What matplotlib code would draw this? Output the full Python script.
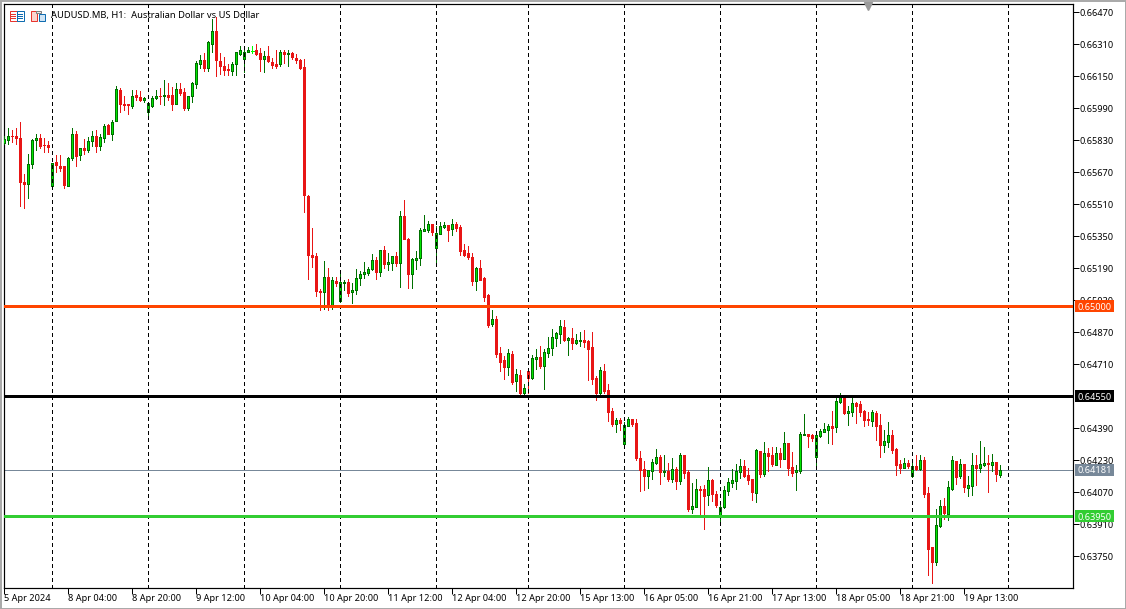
from matplotlib import pyplot as plt
from matplotlib.patches import Rectangle
from matplotlib.transforms import blended_transform_factory

plt.rcParams['font.family'] = ['Noto Sans', 'DejaVu Sans']

# hourly prices, in points (0.00001), first bar is 5 Apr 2024
opens = [65815,65829,65852,65852,65842,65622,65609,65709,65829,65842,
         65807,65807,65599,65720,65700,65699,65602,65739,65862,65754,
         65792,65782,65824,65852,65799,65839,65907,65862,65924,66082,
         66012,66010,66002,66055,66045,66032,65969,65999,66039,66052,
         66049,66057,66055,66012,66087,66072,65992,66049,66109,66212,
         66230,66192,66312,66375,66225,66202,66187,66174,66209,66262,
         66237,66270,66277,66280,66265,66237,66252,66222,66212,66209,
         66270,66259,66267,66242,66232,66195,65552,65257,65252,65077,
         65069,65145,64999,65125,65024,65114,65122,65072,65079,65142,
         65162,65167,65184,65232,65169,65282,65212,65217,65252,65214,
         65452,65337,65159,65232,65242,65377,65382,65412,65292,65362,
         65397,65405,65387,65412,65397,65282,65267,65247,65127,65192,
         65142,65057,64912,64937,64767,64732,64697,64762,64627,64657,
         64567,64677,64642,64737,64747,64702,64767,64792,64842,64862,
         64897,64829,64842,64817,64827,64832,64827,64797,64642,64567,
         64677,64582,64477,64412,64432,64312,64402,64437,64417,64242,
         64187,64152,64177,64217,64247,64172,64177,64137,64187,64127,
         64257,64172,63987,63997,64087,64087,64057,64132,64062,63949,
         63997,64077,64117,64127,64172,64202,64157,64137,64067,64277,
         64162,64267,64257,64207,64267,64237,64317,64197,64172,64177,
         64357,64362,64357,64247,64349,64372,64382,64402,64397,64522,
         64549,64467,64472,64517,64512,64477,64437,64427,64467,64407,
         64307,64322,64357,64287,64212,64192,64217,64152,64202,64187,
         64232,64067,63797,63722,63902,64002,63962,64087,64227,64152,
         64212,64092,64102,64207,64192,64207,64217,64207,64222,64157]
highs = [65849,65892,65879,65892,65922,65662,65762,65835,65862,65862,
         65842,65825,65715,65757,65757,65699,65745,65892,65875,65792,
         65835,65845,65875,65882,65859,65912,65912,65929,66102,66089,
         66052,66012,66079,66082,66075,66047,66019,66052,66082,66089,
         66129,66115,66095,66115,66115,66092,66052,66122,66225,66255,
         66265,66325,66435,66445,66265,66245,66212,66222,66272,66299,
         66285,66295,66302,66312,66289,66277,66299,66239,66279,66282,
         66282,66279,66272,66262,66235,66235,65557,65390,65265,65087,
         65227,65190,65145,65145,65162,65132,65137,65115,65187,65175,
         65222,65195,65262,65245,65282,65302,65265,65252,65272,65475,
         65532,65340,65239,65277,65392,65457,65425,65412,65402,65422,
         65422,65407,65437,65419,65407,65312,65302,65265,65197,65232,
         65147,65062,64982,64952,64797,64752,64787,64777,64687,64682,
         64612,64677,64757,64787,64802,64787,64847,64887,64872,64932,
         64932,64847,64892,64862,64872,64882,64832,64872,64652,64697,
         64712,64612,64492,64442,64442,64422,64447,64437,64437,64277,
         64227,64182,64237,64287,64257,64257,64217,64242,64197,64267,
         64257,64182,64117,64137,64102,64107,64197,64137,64077,64027,
         64102,64142,64187,64212,64237,64232,64192,64137,64287,64277,
         64322,64292,64297,64297,64292,64372,64317,64272,64207,64372,
         64462,64362,64362,64357,64387,64417,64412,64477,64557,64565,
         64549,64502,64542,64522,64527,64482,64472,64482,64477,64462,
         64382,64422,64382,64292,64232,64242,64232,64232,64257,64257,
         64247,64097,63797,63987,64032,64042,64127,64252,64227,64237,
         64212,64152,64267,64257,64327,64297,64257,64262,64222,64207]
lows = [65812,65812,65822,65812,65502,65489,65542,65689,65779,65789,
        65769,65772,65595,65672,65675,65592,65599,65732,65699,65732,
        65759,65769,65802,65772,65779,65822,65859,65832,65924,65969,
        65979,65962,65992,66032,66025,66022,65949,65995,66035,66012,
        66005,66032,65982,66012,66055,65982,65982,66022,66092,66192,
        66174,66175,66269,66152,66159,66155,66155,66155,66155,66255,
        66169,66269,66265,66255,66174,66169,66220,66192,66192,66199,
        66215,66199,66235,66215,66185,65472,65137,65197,65052,64982,
        64987,64982,64987,65102,65020,65082,65052,65017,65062,65107,
        65139,65157,65182,65137,65149,65192,65179,65182,65202,65097,
        65335,65092,65092,65184,65207,65374,65372,65357,65202,65359,
        65389,65327,65357,65377,65257,65252,65237,65107,65082,65132,
        65027,64897,64902,64747,64677,64637,64657,64612,64577,64562,
        64557,64565,64637,64687,64692,64587,64747,64757,64802,64817,
        64827,64757,64787,64812,64802,64797,64632,64612,64532,64552,
        64567,64427,64402,64372,64382,64310,64402,64402,64232,64077,
        64082,64092,64137,64212,64112,64152,64127,64122,64087,64112,
        64140,63977,63967,63997,63952,63887,64007,64027,63997,63907,
        63992,64057,64097,64087,64142,64145,64112,64032,64022,64147,
        64152,64177,64202,64207,64197,64235,64157,64152,64082,64167,
        64354,64297,64327,64192,64347,64369,64317,64312,64372,64515,
        64462,64407,64452,64417,64452,64402,64407,64402,64332,64247,
        64272,64297,64267,64157,64167,64192,64192,64147,64182,64182,
        64047,63657,63617,63707,63897,63937,63932,64082,64112,64142,
        64072,64052,64057,64107,64172,64202,64072,64177,64127,64147]
closes = [65835,65852,65849,65839,65619,65612,65712,65832,65842,65802,
          65804,65797,65715,65704,65692,65607,65742,65862,65749,65790,
          65782,65827,65852,65799,65845,65902,65862,65920,66087,66009,
          66007,66004,66050,66044,66032,66040,66015,66040,66050,66049,
          66055,66045,66012,66085,66065,65992,66049,66115,66215,66230,
          66192,66320,66375,66229,66202,66179,66179,66210,66270,66282,
          66270,66282,66277,66262,66237,66252,66224,66207,66202,66270,
          66259,66265,66244,66229,66192,65555,65254,65247,65074,65069,
          65145,64999,65130,65115,65122,65122,65067,65082,65142,65162,
          65172,65187,65232,65172,65282,65212,65222,65250,65214,65452,
          65337,65162,65235,65242,65382,65387,65412,65369,65365,65402,
          65407,65382,65412,65392,65277,65257,65247,65127,65192,65132,
          65047,64907,64937,64762,64722,64697,64767,64622,64662,64567,
          64592,64642,64742,64747,64702,64772,64792,64847,64867,64902,
          64832,64842,64817,64832,64832,64822,64787,64637,64567,64682,
          64577,64472,64412,64432,64417,64407,64437,64412,64242,64182,
          64152,64182,64222,64247,64172,64177,64137,64187,64127,64257,
          64167,63987,64002,64087,64079,64052,64132,64062,64007,63997,
          64082,64122,64132,64177,64202,64152,64132,64072,64282,64162,
          64267,64252,64212,64267,64237,64317,64192,64167,64182,64362,
          64362,64352,64342,64357,64377,64387,64402,64392,64527,64549,
          64467,64477,64517,64502,64472,64432,64432,64472,64402,64307,
          64327,64357,64282,64207,64192,64217,64200,64202,64187,64232,
          64062,63787,63722,63907,64002,63967,64097,64232,64147,64212,
          64097,64107,64207,64192,64212,64217,64212,64222,64162,64181]

# axis labels
price_ticks = [0.66470, 0.66310, 0.66150, 0.65990, 0.65830, 0.65670, 0.65510, 0.65350, 0.65190,
               0.65030, 0.64870, 0.64710, 0.64390, 0.64230, 0.64070, 0.63910, 0.63750]
time_bars = [0, 16, 32, 48, 64, 80, 96, 112, 128, 144, 160, 176, 192, 208, 224, 240]
time_labels = ['5 Apr 2024', '8 Apr 04:00', '8 Apr 20:00', '9 Apr 12:00', '10 Apr 04:00', '10 Apr 20:00',
               '11 Apr 12:00', '12 Apr 04:00', '12 Apr 20:00', '15 Apr 13:00', '16 Apr 05:00',
               '16 Apr 21:00', '17 Apr 13:00', '18 Apr 05:00', '18 Apr 21:00', '19 Apr 13:00']
day_bars = [12, 36, 60, 84, 108, 131, 155, 179, 203, 227, 251]

# horizontal levels
level_prices = [0.65000, 0.64550, 0.63950, 0.64181]
level_colors = ['#FF4500', '#000000', '#32CD32', '#778899']
level_widths = [3, 3, 3, 1]

W, H = 1126, 609
px = 0.72  # one pixel in points at dpi 100

fig = plt.figure(figsize=(W / 100, H / 100), dpi=100)
ax = fig.add_axes([4 / W, (H - 588) / H, 1068.5 / W, 584 / H])

xs = list(range(len(opens)))
up = [i for i in xs if closes[i] > opens[i]]
down = [i for i in xs if closes[i] < opens[i]]
flat = [i for i in xs if closes[i] == opens[i]]

# wicks, then bodies
wick_colors = ['#007000' if closes[i] > opens[i] else '#E81515' if closes[i] < opens[i] else '#00FF00' for i in xs]
ax.vlines(xs, [v / 1e5 for v in lows], [v / 1e5 for v in highs], colors=wick_colors, lw=px, zorder=3, antialiased=False)
ax.bar(up, [(closes[i] - opens[i]) / 1e5 for i in up], bottom=[opens[i] / 1e5 for i in up], width=0.5,
       color='#00E600', edgecolor='#007000', lw=px, zorder=4, antialiased=False)
ax.bar(down, [(closes[i] - opens[i]) / 1e5 for i in down], bottom=[opens[i] / 1e5 for i in down], width=0.5,
       color='#E81515', edgecolor='#E81515', lw=px, zorder=4, antialiased=False)
ax.hlines([closes[i] / 1e5 for i in flat], [i - 0.3 for i in flat], [i + 0.3 for i in flat],
          colors='#00FF00', lw=px, zorder=4, antialiased=False)

# day separators
for b in day_bars:
    ax.axvline(b, color='black', lw=px, dashes=(4, 3), zorder=5, antialiased=False)

# levels and their price tags on the right
tag_tf = blended_transform_factory(ax.transAxes, ax.transData)
for p, c, w in zip(level_prices, level_colors, level_widths):
    ax.axhline(p, color=c, lw=w * px, zorder=2 if w == 1 else 6, antialiased=False)
    ax.add_patch(Rectangle((1.0024, p - 0.00029), 0.0365, 0.00058, transform=tag_tf, color=c,
                           clip_on=False, zorder=7, lw=0))
    ax.text(1.0208, p, '%.5f' % p, transform=tag_tf, color='white', fontsize=6.6, ha='center', va='center_baseline',
            clip_on=False, zorder=8)

# scale marker at the top
ax.plot([216], [0.9965], marker='v', ms=6, color='#9A9A9A', mec='#9A9A9A', transform=blended_transform_factory(ax.transData, ax.transAxes),
        clip_on=False, zorder=6)

ax.set_xlim(-0.075, 267.05)
ax.set_ylim(0.6359, 0.6651)
ax.yaxis.tick_right()
ax.set_yticks(price_ticks)
ax.set_yticklabels(['%.5f' % p for p in price_ticks])
ax.set_xticks(time_bars)
ax.set_xticklabels(time_labels, ha='left')
ax.tick_params(axis='y', length=4, width=px, pad=0.8, labelsize=6.6)
ax.tick_params(axis='x', length=4, width=px, pad=0.2, labelsize=6.6)
for s in ax.spines.values():
    s.set_linewidth(px * 1.2)

ax.text(47 / 1068.5, 1 - 11.5 / 584, 'AUDUSD.MB, H1:  Australian Dollar vs US Dollar', transform=ax.transAxes,
        fontsize=6.75, ha='left', va='center', zorder=9)

# toolbar icons and window edge, drawn in pixel space
deco = fig.add_axes([0, 0, 1, 1], zorder=10)
deco.set_xlim(0, W)
deco.set_ylim(H, 0)
deco.axis('off')
deco.patch.set_alpha(0)
deco.add_patch(Rectangle((0.5, 0.5), W - 1, H - 1, fill=False, ec='#A8A8A8', lw=1.4))
deco.add_patch(Rectangle((9.5, 10.5), 7, 10, fc='white', ec='#E8352E', lw=px))
deco.add_patch(Rectangle((16.5, 10.5), 7, 10, fc='white', ec='#0F6CB0', lw=px))
for yy in [13.5, 15.5, 17.5]:
    deco.plot([11, 15], [yy, yy], color='#E8352E', lw=px)
    deco.plot([18, 22], [yy, yy], color='#0F6CB0', lw=px)
deco.add_patch(Rectangle((30.5, 10.5), 6, 10, fc='#FBD5D0', ec='#E8352E', lw=px))
deco.add_patch(Rectangle((38.5, 13.5), 6, 7, fc='#CFE4F5', ec='#0F6CB0', lw=px))
deco.add_patch(Rectangle((35.5, 10.5), 5, 2, fc='#E8E8E8', ec='#808080', lw=px))

fig.savefig('out.png', dpi=100)
